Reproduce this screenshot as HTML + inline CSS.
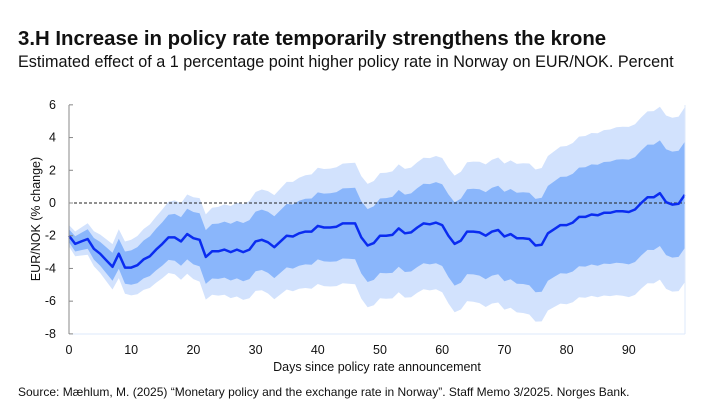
<!DOCTYPE html>
<html><head><meta charset="utf-8"><style>
body{margin:0;background:#fff;width:722px;height:410px;overflow:hidden;font-family:"Liberation Sans",sans-serif;}
</style></head><body>
<svg id="s" width="722" height="410" xmlns="http://www.w3.org/2000/svg" font-family="Liberation Sans, sans-serif">
<text x="18" y="45" font-size="20.4" font-weight="bold" fill="#111">3.H Increase in policy rate temporarily strengthens the krone</text>
<text x="18" y="67" font-size="16.2" fill="#111">Estimated effect of a 1 percentage point higher policy rate in Norway on EUR/NOK. Percent</text>
<g id="plot"></g>
<text x="18" y="396" font-size="12" fill="#111">Source: Mæhlum, M. (2025) “Monetary policy and the exchange rate in Norway”. Staff Memo 3/2025. Norges Bank.</text>
</svg>
<script>
const m=[-2,-2.5,-2.35,-2.2,-2.8,-3.1,-3.5,-3.9,-3.1,-3.95,-3.95,-3.8,-3.45,-3.25,-2.85,-2.5,-2.1,-2.1,-2.35,-1.9,-2.15,-2.25,-3.3,-2.95,-2.95,-2.85,-3.0,-2.85,-3.0,-2.85,-2.35,-2.25,-2.4,-2.7,-2.35,-2.0,-2.05,-1.85,-1.75,-1.75,-1.4,-1.5,-1.5,-1.45,-1.25,-1.25,-1.25,-2.1,-2.6,-2.45,-2.0,-2.0,-1.95,-1.55,-1.85,-1.8,-1.5,-1.25,-1.3,-1.2,-1.35,-2.0,-2.5,-2.3,-1.75,-1.75,-1.8,-2.0,-1.75,-1.65,-2.05,-1.9,-2.15,-2.15,-2.2,-2.6,-2.55,-1.85,-1.6,-1.35,-1.35,-1.2,-0.85,-0.85,-0.7,-0.75,-0.6,-0.6,-0.5,-0.5,-0.55,-0.4,0,0.35,0.35,0.6,0.05,-0.1,-0.05,0.5];
function interp(k,d){for(let i=0;i<k.length-1;i++){if(d<=k[i+1][0]){const t=(d-k[i][0])/(k[i+1][0]-k[i][0]);return k[i][1]+t*(k[i+1][1]-k[i][1]);}}return k[k.length-1][1];}
const inn=[[0,0.4],[10,1.05],[20,1.6],[40,2.05],[60,2.5],[90,3.2],[99,3.25]];
const out=[[0,0.65],[10,1.7],[20,2.5],[40,3.55],[60,4.1],[90,5.2],[99,5.35]];
const X=d=>69+d*6.22, Y=v=>203-v*16.36;
function band(k){let up=[],lo=[];m.forEach((v,d)=>{const h=interp(k,d);up.push(X(d).toFixed(1)+','+Y(v+h).toFixed(1));lo.unshift(X(d).toFixed(1)+','+Y(v-h).toFixed(1));});return up.concat(lo).join(' ');}
let g='';
g+=`<polygon points="${band(out)}" fill="#d2e2fd"/>`;
g+=`<polygon points="${band(inn)}" fill="#8ab6fb"/>`;
g+=`<line x1="69" y1="203" x2="685" y2="203" stroke="#222" stroke-width="1" stroke-dasharray="3,2"/>`;
g+=`<polyline points="${m.map((v,d)=>X(d).toFixed(1)+','+Y(v).toFixed(1)).join(' ')}" fill="none" stroke="#0a2cf0" stroke-width="2.5" stroke-linejoin="round"/>`;
g+=`<line x1="69" y1="105" x2="69" y2="334" stroke="#888"/>`;
g+=`<line x1="69" y1="334" x2="685" y2="334" stroke="#dde8fb"/>`;
g+=`<line x1="685" y1="105" x2="685" y2="334" stroke="#dde8fb"/>`;
for(let v=6;v>=-8;v-=2){g+=`<line x1="69" y1="${Y(v)}" x2="73" y2="${Y(v)}" stroke="#888"/><text x="56" y="${Y(v)+4}" font-size="12.5" text-anchor="end" fill="#111">${v}</text>`;}
for(let d=0;d<=90;d+=10){g+=`<text x="${X(d)}" y="354" font-size="12.5" text-anchor="middle" fill="#111">${d}</text>`;}
g+=`<text x="377" y="371" font-size="12.5" text-anchor="middle" fill="#111">Days since policy rate announcement</text>`;
g+=`<text transform="translate(40,219) rotate(-90)" font-size="12.5" text-anchor="middle" fill="#111">EUR/NOK (% change)</text>`;
document.getElementById('plot').innerHTML=g;
</script>
</body></html>
